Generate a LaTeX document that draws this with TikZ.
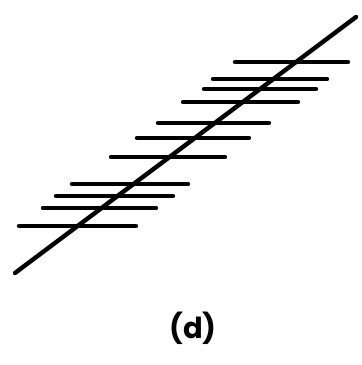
\documentclass[tikz,border=0pt]{standalone}
\usepackage{fontspec}
\newfontfamily\labfont{Poppins}
\begin{document}
\begin{tikzpicture}[x=1pt,y=-1pt,
  stroke/.style={line width=4.4pt,line cap=round},
  rung/.style={line width=4.4pt,line cap=round}]
\useasboundingbox (0,0) rectangle (362,365);
\coordinate (b) at (15,273);
\coordinate (t) at (356,17);
\draw[stroke] (b) -- (t);
\foreach \y/\xa/\xb [count=\i] in {62/235/348, 79/213/327, 89/204/316, 102/183/298, 123/158/269, 138/137/249, 157/111/225, 184/72/188, 196/56/173, 208/43/156, 226/19/136}{
  \coordinate (l\i) at (\xa,\y);
  \coordinate (r\i) at (\xb,\y);
  \draw[rung] (l\i) -- (r\i);
}
\node[font=\labfont\bfseries\fontsize{29}{34}\selectfont] (lab) at (193,328) {(d)};
\end{tikzpicture}
\end{document}
